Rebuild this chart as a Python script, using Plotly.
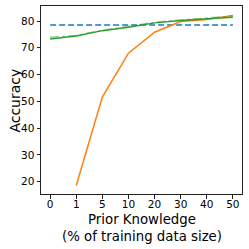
import plotly.graph_objects as go

categories = ["0", "1", "5", "10", "20", "30", "40", "50"]
orange_cats = ["1", "5", "10", "20", "30", "40", "50"]
orange_vals = [18.6, 51.6, 68.0, 75.8, 79.8, 80.6, 82.1]
green_a = [73.3, 74.4, 76.4, 77.7, 79.3, 80.2, 80.8, 81.4]
green_b = [73.9, 74.6, 76.5, 77.9, 79.5, 80.4, 81.0, 81.8]
baseline = [78.5] * 8

fig = go.Figure()
fig.add_trace(go.Scatter(x=categories, y=baseline, mode="lines",
                         line=dict(color="#1f77b4", width=1.5, dash="6px,3px")))
fig.add_trace(go.Scatter(x=orange_cats, y=orange_vals, mode="lines",
                         line=dict(color="#ff7f0e", width=1.5)))
fig.add_trace(go.Scatter(x=categories, y=green_b, mode="lines", opacity=0.5,
                         line=dict(color="#2ca02c", width=1.5, dash="dashdot")))
fig.add_trace(go.Scatter(x=categories, y=green_a, mode="lines",
                         line=dict(color="#2ca02c", width=1.5)))

font = "DejaVu Sans"
fig.update_layout(
    width=249, height=249, showlegend=False,
    margin=dict(l=41, r=7, t=6, b=55),
    paper_bgcolor="white", plot_bgcolor="white",
    font=dict(family=font, color="black"),
    xaxis=dict(type="category", range=[-0.35, 7.35], automargin=False,
               showline=True, linecolor="#222", linewidth=1, mirror=True,
               ticks="outside", ticklen=3.5, tickcolor="#222",
               ticklabelstandoff=-3,
               tickfont=dict(size=10.5), showgrid=False, zeroline=False),
    yaxis=dict(range=[15.4, 85.6], tickvals=[20, 30, 40, 50, 60, 70, 80],
               automargin=False,
               showline=True, linecolor="#222", linewidth=1, mirror=True,
               ticks="outside", ticklen=3.5, tickcolor="#222",
               tickfont=dict(size=10.5), showgrid=False, zeroline=False),
    annotations=[
        dict(text="Accuracy", xref="paper", yref="paper", x=-0.131, y=0.495,
             xanchor="center", yanchor="middle", textangle=-90,
             showarrow=False, font=dict(size=14)),
        dict(text="Prior Knowledge<br>(% of training data size)",
             xref="paper", yref="paper", x=0.5, y=-0.085,
             xanchor="center", yanchor="top", showarrow=False,
             font=dict(size=13.3)),
    ],
)
fig.write_html("out.html", config={"displayModeBar": False},
               post_script="document.body.style.margin='0';")
